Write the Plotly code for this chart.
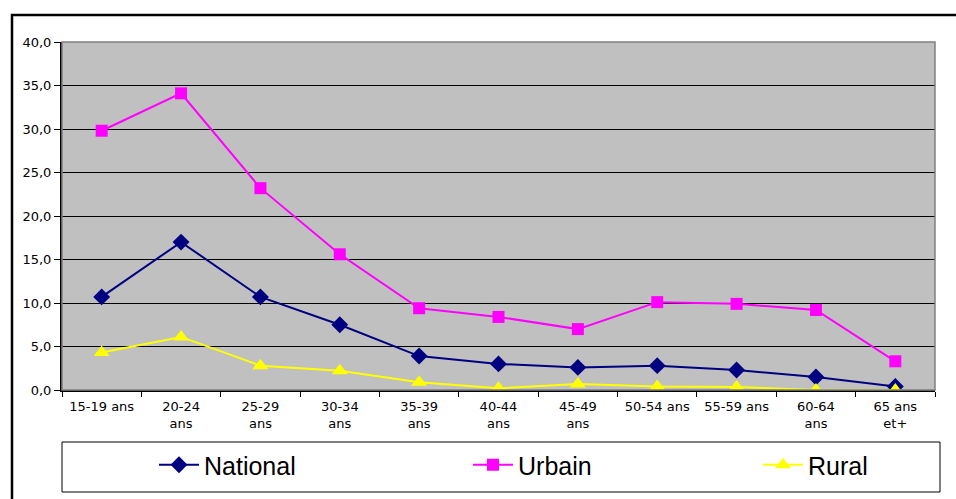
import plotly.graph_objects as go

# Age groups and rates (%) by area of residence
categories = ["15-19 ans", "20-24<br>ans", "25-29<br>ans", "30-34<br>ans", "35-39<br>ans",
              "40-44<br>ans", "45-49<br>ans", "50-54 ans", "55-59 ans", "60-64<br>ans",
              "65 ans<br>et+"]
national = [10.7, 17.0, 10.7, 7.5, 3.9, 3.0, 2.6, 2.8, 2.3, 1.5, 0.4]
urbain = [29.8, 34.1, 23.2, 15.6, 9.4, 8.4, 7.0, 10.1, 9.9, 9.2, 3.3]
rural = [4.3, 6.1, 2.8, 2.2, 0.9, 0.2, 0.7, 0.4, 0.35, 0.0, 0.0]
y_ticks = [0, 5, 10, 15, 20, 25, 30, 35, 40]
y_tick_text = ["0,0", "5,0", "10,0", "15,0", "20,0", "25,0", "30,0", "35,0", "40,0"]

W, H = 956, 499
L, R, T, B = 62, 21, 42, 109
pw, ph = W - L - R, H - T - B

def px_x(p):
    return (p - L) / pw

def px_y(p):
    return (H - B - p) / ph

legend_font = dict(family="Liberation Sans Narrow, Liberation Sans, Arial", size=25, color="black")

def legend_at(x_px):
    return dict(orientation="h", x=px_x(x_px), xanchor="left", y=px_y(442), yanchor="top",
                font=legend_font, itemwidth=40, bgcolor="rgba(0,0,0,0)", borderwidth=0)

fig = go.Figure()
fig.add_trace(go.Scatter(x=categories, y=national, name="National", mode="lines+markers",
                         line=dict(color="#000080", width=2),
                         marker=dict(symbol="diamond", size=13, color="#000080"),
                         legend="legend"))
fig.add_trace(go.Scatter(x=categories, y=urbain, name="Urbain", mode="lines+markers",
                         line=dict(color="#FF00FF", width=2),
                         marker=dict(symbol="square", size=12, color="#FF00FF"),
                         legend="legend2"))
fig.add_trace(go.Scatter(x=categories, y=rural, name="Rural", mode="lines+markers",
                         line=dict(color="#FFFF00", width=2),
                         marker=dict(symbol="triangle-up", size=14, color="#FFFF00"),
                         legend="legend3"))

fig.update_layout(
    width=W, height=H,
    margin=dict(l=L, r=R, t=T, b=B, autoexpand=False),
    paper_bgcolor="white",
    plot_bgcolor="#C0C0C0",
    font=dict(family="DejaVu Sans", size=13, color="black"),
    showlegend=True,
    legend=legend_at(154),
    legend2=legend_at(468),
    legend3=legend_at(758),
    shapes=[
        # outer chart frame
        dict(type="rect", xref="paper", yref="paper",
             x0=px_x(12), x1=px_x(990), y0=px_y(15), y1=px_y(530),
             line=dict(color="black", width=2.5), layer="below"),
        # legend frame
        dict(type="rect", xref="paper", yref="paper",
             x0=px_x(62), x1=px_x(940), y0=px_y(442), y1=px_y(492),
             line=dict(color="black", width=1), fillcolor="white", layer="below"),
        # plot-area border
        dict(type="rect", xref="paper", yref="paper", x0=0, x1=1, y0=0, y1=1,
             line=dict(color="#808080", width=1.5), layer="above"),
    ],
)
fig.update_xaxes(type="category", range=[-0.5, len(categories) - 0.5],
                 showgrid=False, tickson="boundaries", automargin=False,
                 ticks="outside", ticklen=5, tickcolor="black", ticklabelstandoff=3,
                 showline=True, linecolor="black", linewidth=2,
                 tickfont=dict(family="DejaVu Sans", size=13), tickangle=0)
fig.update_yaxes(range=[0, 40], tickvals=y_ticks, ticktext=y_tick_text,
                 showgrid=True, gridcolor="black", gridwidth=1, automargin=False,
                 ticks="outside", ticklen=6, tickcolor="black",
                 showline=True, linecolor="black", linewidth=2, zeroline=False,
                 tickfont=dict(family="DejaVu Sans", size=13))

fig.write_html("out.html")
